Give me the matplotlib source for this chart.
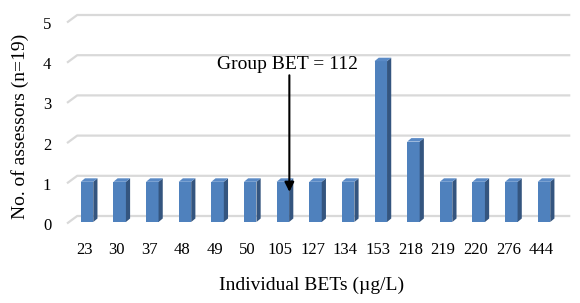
import matplotlib
matplotlib.use("Agg")
import matplotlib.pyplot as plt
from matplotlib.patches import Polygon

categories = ["23", "30", "37", "48", "49", "50", "105", "127", "134", "153",
              "218", "219", "220", "276", "444"]
counts = [1, 1, 1, 1, 1, 1, 1, 1, 1, 4, 2, 1, 1, 1, 1]
yticks = [0, 1, 2, 3, 4, 5]
annot_text = "Group BET = 112"
annot_index = 6  # bar the arrow points to (105)

plt.rcParams['font.family'] = ['Liberation Serif', 'DejaVu Serif']

W, H = 580, 303
fig = plt.figure(figsize=(W / 100, H / 100), dpi=100)

# pixel geometry of the front plane
x_left_px, x_right_px = 70.7, 560.3
y0_px, unit_px = 222.0, 40.2
ax = fig.add_axes([x_left_px / W, (H - y0_px) / H,
                   (x_right_px - x_left_px) / W, 5 * unit_px / H])
n = len(categories)
ax.set_xlim(-0.5, n - 0.5)
ax.set_ylim(0, 5)
ax.axis('off')

ux = (x_right_px - x_left_px) / n  # px per x unit
uy = unit_px                        # px per y unit

def dx(px):
    return px / ux

def dy(px):
    return px / uy

grid_col = '#D9D9D9'
# gridlines on back wall with diagonal ticks
for v in yticks:
    xs = [-0.5 - dx(3.7), -0.5 + dx(6.5), n - 0.5 + dx(10)]
    ys = [v - dy(1.5), v + dy(6), v + dy(6)]
    ax.plot(xs, ys, color=grid_col, lw=1.6, clip_on=False, zorder=1,
            solid_capstyle='butt')
    ax.text(-0.5 - dx(23.7), v - dy(4), str(v), ha='center', va='center',
            fontsize=12, clip_on=False)

front_col = '#4F81BD'
side_col = '#34557F'
top_col = '#5A8AC6'
bw = dx(12.5)
sdx, sdy = dx(4.2), dy(3.5)
for i, v in enumerate(counts):
    x0 = i - bw / 2
    x1 = i + bw / 2
    ax.add_patch(Polygon([(x0, 0), (x1, 0), (x1, v), (x0, v)],
                         closed=True, facecolor=front_col, edgecolor='none',
                         zorder=3, clip_on=False))
    ax.add_patch(Polygon([(x1, 0), (x1 + sdx, sdy), (x1 + sdx, v + sdy), (x1, v)],
                         closed=True, facecolor=side_col, edgecolor='none',
                         zorder=3, clip_on=False))
    ax.add_patch(Polygon([(x0, v), (x1, v), (x1 + sdx, v + sdy), (x0 + sdx, v + sdy)],
                         closed=True, facecolor=top_col, edgecolor='none',
                         zorder=3, clip_on=False))
    ax.text(i - dx(3), -dy(28.5), categories[i], ha='center', va='center',
            fontsize=12, clip_on=False)

# annotation arrow
ax.annotate("", xy=(annot_index + dx(6.5), counts[annot_index] - dy(10)),
            xytext=(annot_index + dx(6.5), 3.65),
            arrowprops=dict(arrowstyle='-|>', color='black', lw=1.5,
                            mutation_scale=14, shrinkA=0, shrinkB=0),
            zorder=5, annotation_clip=False)
ax.text(annot_index + dx(5), 3.93, annot_text, ha='center', va='center',
        fontsize=14, zorder=6, clip_on=False)

fig.text(20 / W, 1 - 126 / H, "No. of assessors (n=19)", rotation=90,
         ha='center', va='center', fontsize=14)
fig.text(312 / W, 1 - 285 / H, "Individual BETs (µg/L)", ha='center',
         va='center', fontsize=14)

fig.savefig("out.png", dpi=100)
